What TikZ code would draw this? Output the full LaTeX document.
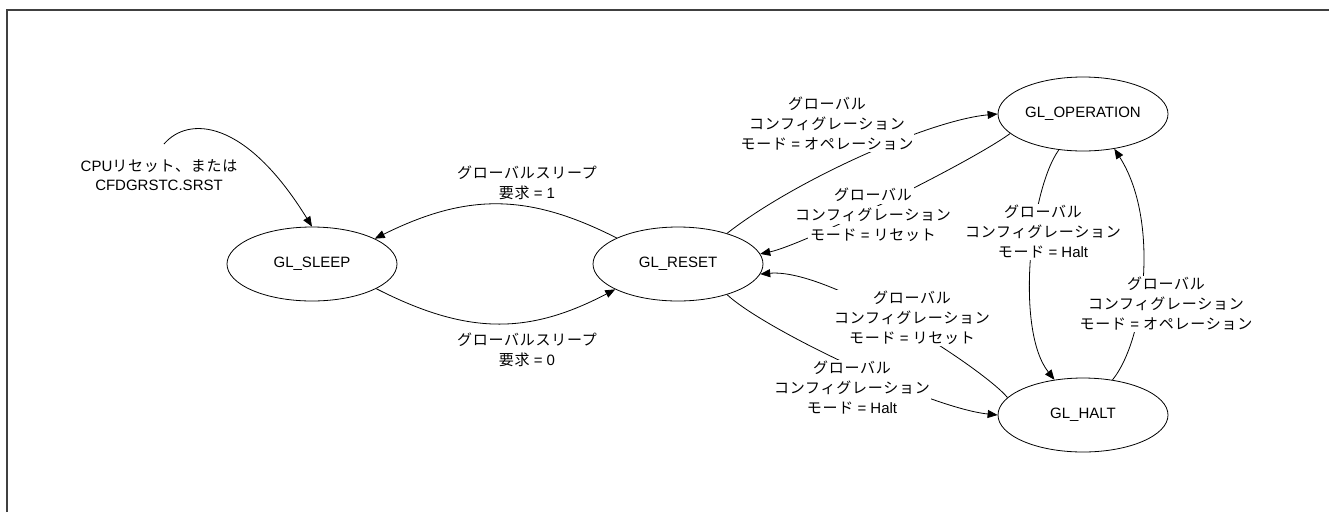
\documentclass[tikz,border=0pt]{standalone}
\usepackage{fontspec}
\setmainfont{Liberation Sans}
\newfontfamily\jp[LetterSpace=5]{Noto Sans CJK JP}
\usetikzlibrary{arrows.meta,shapes.geometric}
\newcommand\wl[1]{{\setlength{\fboxsep}{2.5pt}\colorbox{white}{#1}}}
\tikzset{
  state/.style={draw, ellipse, line width=0.8pt, minimum width=170pt, minimum height=74pt, inner sep=0pt, font=\fontsize{15}{18}\selectfont},
  lbl/.style={align=center, fill=white, inner sep=1pt, font=\fontsize{15}{20}\selectfont},
  lblw/.style={align=center, inner sep=0pt, font=\fontsize{15}{20}\selectfont},
  edge/.style={line width=0.8pt, -{Triangle[length=10pt,width=8pt]}},
}
\begin{document}
\begin{tikzpicture}[x=1pt,y=-1pt]
\useasboundingbox (0,0) rectangle (1329,512);
\draw[line width=1.4pt, black!75] (7,512) -- (7,10) -- (1329,10);

\node[state] (sleep) at (312,264) {GL\_SLEEP};
\node[state] (reset) at (678,264) {GL\_RESET};
\node[state] (oper) at (1083,114) {GL\_OPERATION};
\node[state] (halt) at (1083,415) {GL\_HALT};

\coordinate (init) at (164,144);

% edges
\draw[edge] (init) .. controls (188,116) and (245,118) .. (sleep.north);
\draw[edge] (reset.157) .. controls (528,193) and (467,193) .. (sleep.22);
\draw[edge] (sleep.-21) .. controls (467,335) and (528,335) .. (reset.-158);
\draw[edge] (reset.32) .. controls (795,180) and (930,120) .. (oper.west);
\draw[edge] (oper.-165) .. controls (968,164) and (803,245) .. (reset.7);
\draw[edge] (halt.167) .. controls (985,370) and (830,268) .. (reset.-7);
\draw[edge] (reset.-32) .. controls (765,330) and (930,408) .. (halt.west);
\draw[edge] (oper.-124) .. controls (1030,190) and (1015,330) .. (halt.129);
\draw[edge] (halt.50) .. controls (1145,340) and (1160,220) .. (oper.-48);

% labels
\node[align=center, font=\fontsize{15}{19}\selectfont] (l0) at (159,175) {CPU{\jp リセット、または}\\CFDGRSTC.SRST};
\node[lbl] (l1) at (527,183) {{\jp グローバルスリープ}\\{\jp 要求} = 1};
\node[lbl] (l2) at (527,350) {{\jp グローバルスリープ}\\{\jp 要求} = 0};
\node[lbl] (l3) at (827,124) {{\jp グローバル}\\{\jp コンフィグレーション}\\{\jp モード} = {\jp オペレーション}};
\node[lblw] (l4) at (873,215) {\wl{\jp グローバル}\\\wl{\jp コンフィグレーション}\\\wl{{\jp モード} = {\jp リセット}}};
\node[lbl] (l5) at (912,318) {{\jp グローバル}\\{\jp コンフィグレーション}\\{\jp モード} = {\jp リセット}};
\node[lbl] (l6) at (852,388) {{\jp グローバル}\\{\jp コンフィグレーション}\\{\jp モード} = Halt};
\node[lbl] (l7) at (1043,232) {{\jp グローバル}\\{\jp コンフィグレーション}\\{\jp モード} = Halt};
\node[lbl] (l8) at (1166,304) {{\jp グローバル}\\{\jp コンフィグレーション}\\{\jp モード} = {\jp オペレーション}};
\end{tikzpicture}
\end{document}
